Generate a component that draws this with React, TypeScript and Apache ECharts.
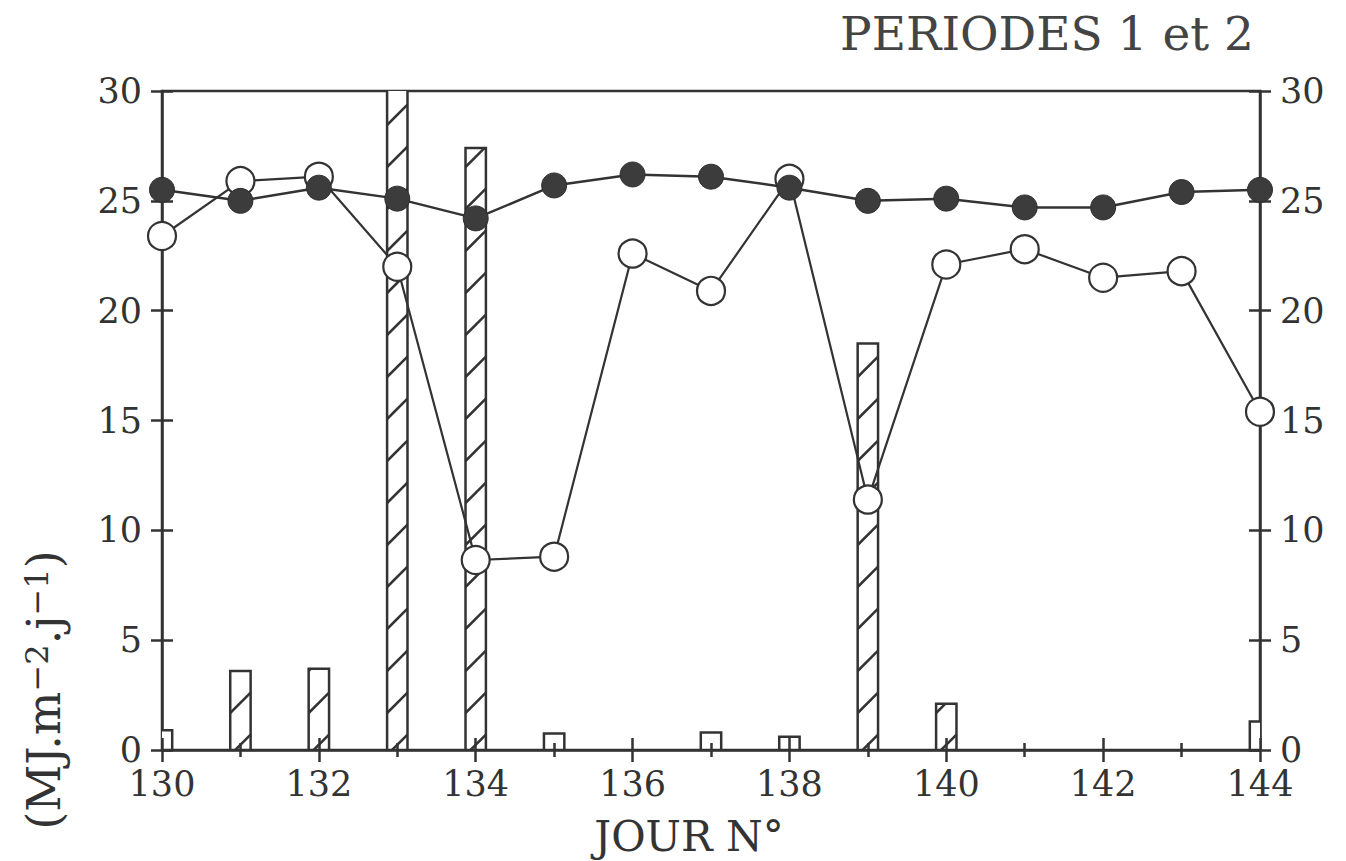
import React, { useEffect, useRef } from "react";
import * as echarts from "echarts";

// ---- data ----
const days = [130, 131, 132, 133, 134, 135, 136, 137, 138, 139, 140, 141, 142, 143, 144];
const filledSeries = [25.5, 25.0, 25.6, 25.1, 24.2, 25.7, 26.2, 26.1, 25.6, 25.0, 25.1, 24.7, 24.7, 25.4, 25.5];
const openSeries = [23.4, 25.9, 26.1, 22.0, 8.65, 8.8, 22.6, 20.9, 26.0, 11.4, 22.1, 22.8, 21.5, 21.8, 15.4];
const barValues = [0.9, 3.6, 3.7, 32, 27.4, 0.75, 0, 0.8, 0.6, 18.5, 2.1, 0, 0, 0, 1.3];
const yTicks = [0, 5, 10, 15, 20, 25, 30];
const titleText = "PERIODES 1 et 2";
const xAxisTitle = "JOUR N°";

const INK = "#333333";
const FONT = "DejaVu Serif";

export default function App() {
  const ref = useRef<HTMLDivElement>(null);

  useEffect(() => {
    if (!ref.current) return;
    const chart = echarts.init(ref.current, null, { renderer: "svg" });

    const yMin = yTicks[0];
    const yMax = yTicks[yTicks.length - 1];
    const yInterval = yTicks[1] - yTicks[0];

    const baseX = {
      type: "value",
      min: days[0],
      max: days[days.length - 1],
      interval: 2,
      position: "bottom",
      splitLine: { show: false },
      z: 6,
    };
    const baseY = {
      type: "value",
      min: yMin,
      max: yMax,
      interval: yInterval,
      splitLine: { show: false },
    };

    const option: any = {
      animation: false,
      backgroundColor: "#ffffff",
      grid: {
        left: 162,
        right: 86,
        top: 91,
        bottom: 111,
        show: true,
        borderColor: INK,
        borderWidth: 2.5,
        backgroundColor: "transparent",
        outerBoundsMode: "none",
      },
      xAxis: [
        {
          ...baseX,
          axisLine: { show: true, onZero: false, lineStyle: { color: INK, width: 2.5 } },
          axisTick: { show: true, inside: false, length: 12, lineStyle: { color: INK, width: 2.5 } },
          minorTick: { show: true, splitNumber: 2, length: 7, lineStyle: { color: INK, width: 2.5 } },
          axisLabel: { show: true, fontFamily: FONT, fontSize: 35, color: INK, margin: 16 },
        },
        {
          ...baseX,
          axisLine: { show: false, onZero: false },
          axisTick: { show: true, inside: true, length: 12, lineStyle: { color: INK, width: 2.5 } },
          minorTick: { show: true, splitNumber: 2, length: 7, lineStyle: { color: INK, width: 2.5 } },
          axisLabel: { show: false },
        },
      ],
      yAxis: [
        {
          ...baseY,
          position: "left",
          axisLine: { show: true, onZero: false, lineStyle: { color: INK, width: 2.5 } },
          axisTick: { show: true, inside: false, length: 11, lineStyle: { color: INK, width: 2.5 } },
          axisLabel: { show: true, fontFamily: FONT, fontSize: 35, color: INK, margin: 20 },
        },
        {
          ...baseY,
          position: "left",
          axisLine: { show: false, onZero: false },
          axisTick: { show: true, inside: true, length: 11, lineStyle: { color: INK, width: 2.5 } },
          axisLabel: { show: false },
        },
        {
          ...baseY,
          position: "right",
          axisLine: { show: true, onZero: false, lineStyle: { color: INK, width: 2.5 } },
          axisTick: { show: true, inside: false, length: 11, lineStyle: { color: INK, width: 2.5 } },
          axisLabel: { show: true, fontFamily: FONT, fontSize: 35, color: INK, margin: 20 },
        },
        {
          ...baseY,
          position: "right",
          axisLine: { show: false, onZero: false },
          axisTick: { show: true, inside: true, length: 11, lineStyle: { color: INK, width: 2.5 } },
          axisLabel: { show: false },
        },
      ],
      series: [
        {
          type: "custom",
          name: "bars",
          xAxisIndex: 0,
          yAxisIndex: 0,
          clip: true,
          z: 1,
          data: days.map((d, i) => [d, barValues[i]]),
          encode: { x: 0, y: 1 },
          renderItem: (params: any, api: any) => {
            const x = api.value(0);
            const v = api.value(1);
            if (!v || v <= 0) return null;
            const base = api.coord([x, 0]);
            const top = api.coord([x, v]);
            const w = api.size([1, 0])[0] * 0.26;
            const xl = base[0] - w / 2;
            const xr = base[0] + w / 2;
            const yb = base[1];
            const yt = top[1];
            const children: any[] = [
              {
                type: "rect",
                shape: { x: xl, y: yt, width: w, height: yb - yt },
                style: { fill: "#ffffff", stroke: INK, lineWidth: 2.5 },
              },
            ];
            if (yb - yt > 35) {
              const spacing = 42;
              for (let c = yb + 5; c >= yt; c -= spacing) {
                const xa = Math.max(xl, xl + c - yb);
                const xb = Math.min(xr, xl + c - yt);
                if (xb - xa > 1) {
                  children.push({
                    type: "line",
                    shape: { x1: xa, y1: c - (xa - xl), x2: xb, y2: c - (xb - xl) },
                    style: { stroke: INK, lineWidth: 2.5 },
                  });
                }
              }
            }
            return { type: "group", children };
          },
        },
        {
          type: "line",
          name: "open",
          xAxisIndex: 0,
          yAxisIndex: 0,
          z: 3,
          data: days.map((d, i) => [d, openSeries[i]]),
          symbol: "circle",
          symbolSize: 28,
          lineStyle: { color: INK, width: 2.2 },
          itemStyle: { color: "#ffffff", borderColor: INK, borderWidth: 2.2 },
        },
        {
          type: "line",
          name: "filled",
          xAxisIndex: 0,
          yAxisIndex: 0,
          z: 4,
          data: days.map((d, i) => [d, filledSeries[i]]),
          symbol: "circle",
          symbolSize: 25,
          lineStyle: { color: INK, width: 2.5 },
          itemStyle: { color: "#3c3c3c", borderColor: "#2e2e2e", borderWidth: 1 },
        },
      ],
      graphic: [
        {
          type: "text",
          right: 92,
          top: 10,
          style: {
            text: titleText,
            fontFamily: FONT,
            fontSize: 47,
            fill: "#444",
          },
        },
        {
          type: "text",
          x: 689,
          y: 836,
          style: {
            text: xAxisTitle,
            fontFamily: FONT,
            fontSize: 42,
            fill: INK,
            textAlign: "center",
            textVerticalAlign: "middle",
          },
        },
        {
          type: "text",
          x: 44,
          y: 690,
          rotation: Math.PI / 2,
          style: {
            text: "{a|(MJ.m}{s|−2}{a|.j}{s|−1}{a|)}",
            fontFamily: FONT,
            fill: INK,
            textAlign: "center",
            textVerticalAlign: "middle",
            rich: {
              a: { fontFamily: FONT, fontSize: 46, lineHeight: 46, padding: [14, 0, 0, 0], verticalAlign: "bottom", fill: INK },
              s: { fontFamily: FONT, fontSize: 32, lineHeight: 32, verticalAlign: "top", fill: INK },
            },
          },
        },
      ],
    };

    chart.setOption(option);
    return () => chart.dispose();
  }, []);

  return (
    <div
      ref={ref}
      style={{ position: "fixed", left: 0, top: 0, width: 1346, height: 861, background: "#fff" }}
    />
  );
}
